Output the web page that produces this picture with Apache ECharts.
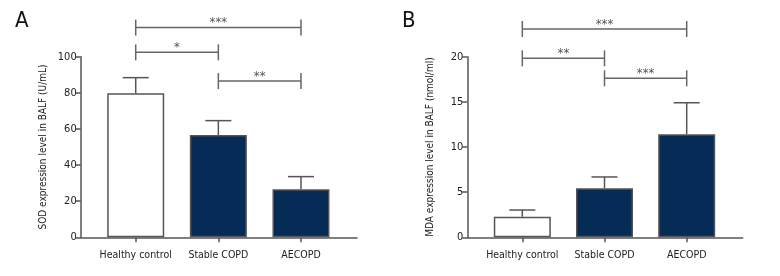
<!DOCTYPE html>
<html>
<head>
<meta charset="utf-8">
<script src="https://cdn.jsdelivr.net/npm/echarts@6/dist/echarts.min.js"></script>
<style>
  html, body { margin: 0; padding: 0; background: #fff; }
  #chart { width: 780px; height: 276px; }
</style>
</head>
<body>
<div id="chart"></div>
<script>
var categories = ['Healthy control', 'Stable COPD', 'AECOPD'];

// panel A: SOD
var sodMean = [79.7, 56.6, 26.6];
var sodErr = [88.4, 64.6, 33.6];
var sodTicks = [0, 20, 40, 60, 80, 100];
// [from, to, height, stars]
var sodSig = [[0, 2, 116.1, '***'], [0, 1, 102.4, '*'], [1, 2, 86.5, '**']];

// panel B: MDA
var mdaMean = [2.28, 5.42, 11.4];
var mdaErr = [3.02, 6.68, 14.9];
var mdaTicks = [0, 5, 10, 15, 20];
var mdaSig = [[0, 2, 23.07, '***'], [0, 1, 19.82, '**'], [1, 2, 17.61, '***']];

var font = '"DejaVu Sans Condensed", "Liberation Sans Narrow", sans-serif';
var lineCol = '#555';
var barCol = '#062b57';

function errRender(params, api) {
    var top = api.coord([api.value(0), api.value(1)]);
    var base = api.coord([api.value(0), api.value(2)]);
    return {
        type: 'group',
        children: [
            { type: 'line', shape: { x1: base[0], y1: base[1], x2: top[0], y2: top[1] }, style: { stroke: lineCol, lineWidth: 1.5 } },
            { type: 'line', shape: { x1: top[0] - 13, y1: top[1], x2: top[0] + 13, y2: top[1] }, style: { stroke: lineCol, lineWidth: 1.5 } }
        ]
    };
}

function sigRender(params, api) {
    var a = api.coord([api.value(0), api.value(2)]);
    var b = api.coord([api.value(1), api.value(2)]);
    var st = { stroke: '#666', lineWidth: 1.5 };
    return {
        type: 'group',
        children: [
            { type: 'line', shape: { x1: a[0], y1: a[1], x2: b[0], y2: b[1] }, style: st },
            { type: 'line', shape: { x1: a[0], y1: a[1] - 8, x2: a[0], y2: a[1] + 8 }, style: st },
            { type: 'line', shape: { x1: b[0], y1: b[1] - 8, x2: b[0], y2: b[1] + 8 }, style: st },
            { type: 'text', style: { text: api.value(3), x: (a[0] + b[0]) / 2, y: a[1] + 2, align: 'center', verticalAlign: 'bottom', fill: '#555', font: '13px ' + font } }
        ]
    };
}

function frameAxes(gi, ticks, name) {
    var x = { type: 'value', gridIndex: gi, min: 0, max: 1, axisLine: { show: true, lineStyle: { color: lineCol, width: 1.5 } }, axisTick: { show: false }, axisLabel: { show: false }, splitLine: { show: false } };
    var y = {
        type: 'value', gridIndex: gi, min: ticks[0], max: ticks[ticks.length - 1], interval: ticks[1] - ticks[0],
        name: name, nameLocation: 'middle', nameRotate: 90, nameGap: 32,
        nameTextStyle: { fontFamily: font, fontSize: 10, color: '#222' },
        axisLine: { show: true, lineStyle: { color: lineCol, width: 1.5 } },
        axisTick: { show: true, length: 5, lineStyle: { color: lineCol, width: 1.5 } },
        axisLabel: { fontFamily: font, fontSize: 11, color: '#222', margin: 4 },
        splitLine: { show: false }
    };
    return [x, y];
}

function barAxes(gi, ticks) {
    var x = {
        type: 'category', gridIndex: gi, data: categories,
        axisLine: { show: false },
        axisTick: { show: true, alignWithLabel: true, length: 5, lineStyle: { color: lineCol, width: 1.5 } },
        axisLabel: { interval: 0, fontFamily: font, fontSize: 10.5, color: '#222', margin: 12 }
    };
    var y = { type: 'value', gridIndex: gi, min: ticks[0], max: ticks[ticks.length - 1], show: false };
    return [x, y];
}

var fa = frameAxes(0, sodTicks, 'SOD expression level in BALF (U/mL)');
var ba = barAxes(1, sodTicks);
var fb = frameAxes(2, mdaTicks, 'MDA expression level in BALF (nmol/ml)');
var bb = barAxes(3, mdaTicks);

function barSeries(ai, mean) {
    return {
        type: 'bar', xAxisIndex: ai, yAxisIndex: ai, barWidth: 57,
        data: mean.map(function (v, i) {
            return { value: v, itemStyle: { color: i === 0 ? '#fff' : barCol, borderColor: lineCol, borderWidth: 1.5 } };
        }),
        z: 3
    };
}

function errSeries(ai, mean, err) {
    return {
        type: 'custom', xAxisIndex: ai, yAxisIndex: ai, renderItem: errRender, z: 2,
        data: mean.map(function (v, i) { return [i, err[i], v]; })
    };
}

function sigSeries(ai, sig) {
    return {
        type: 'custom', xAxisIndex: ai, yAxisIndex: ai, renderItem: sigRender, clip: false, z: 4,
        encode: { x: [0, 1], y: 2 },
        data: sig
    };
}

var chart = echarts.init(document.getElementById('chart'), null, { renderer: 'canvas' });

chart.setOption({
    animation: false,
    backgroundColor: '#fff',
    title: [
        { text: 'A', left: 10, top: 5, textStyle: { fontFamily: font, fontSize: 22, fontWeight: 'normal', color: '#111' } },
        { text: 'B', left: 397, top: 5, textStyle: { fontFamily: font, fontSize: 22, fontWeight: 'normal', color: '#111' } }
    ],
    grid: [
        { left: 80.7, top: 56.7, width: 276.3, height: 180.6 },
        { left: 94.4, top: 56.7, width: 247.9, height: 180.6 },
        { left: 467.3, top: 56.7, width: 275.4, height: 180.6 },
        { left: 481.2, top: 56.7, width: 246.6, height: 180.6 }
    ],
    xAxis: [fa[0], ba[0], fb[0], bb[0]],
    yAxis: [fa[1], ba[1], fb[1], bb[1]],
    series: [
        barSeries(1, sodMean), errSeries(1, sodMean, sodErr), sigSeries(1, sodSig),
        barSeries(3, mdaMean), errSeries(3, mdaMean, mdaErr), sigSeries(3, mdaSig)
    ]
});
</script>
</body>
</html>
